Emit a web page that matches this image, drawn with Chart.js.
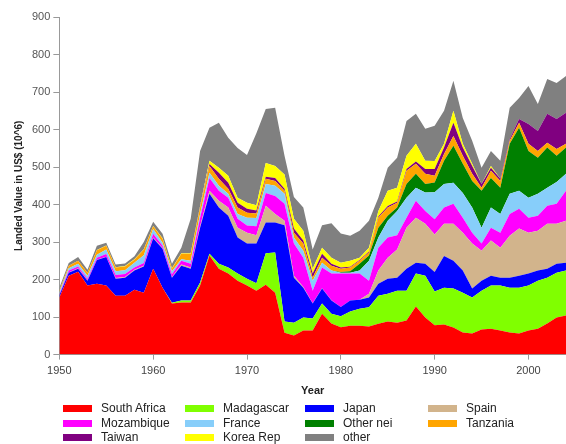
<!DOCTYPE html>
<html>
<head>
<meta charset="utf-8">
<script src="https://cdn.jsdelivr.net/npm/chart.js@4.4.1/dist/chart.umd.min.js"></script>
<style>
  body { margin: 0; background: #fff; font-family: "Liberation Sans", Arial, sans-serif; }
  #wrap { position: relative; width: 566px; height: 444px; overflow: hidden; }
  #chart { position: absolute; left: 0; top: 0; }
  .leg { position: absolute; font-size: 12px; color: #222; line-height: 14px; white-space: nowrap; }
  .leg span.box { position: absolute; left: 0; top: 4px; width: 29px; height: 7px; }
  .leg span.txt { position: absolute; left: 38px; top: 0; }
</style>
</head>
<body>
<div id="wrap">
  <canvas id="chart" width="566" height="406"></canvas>
  <div id="legend"></div>
</div>
<script>
// years 1950 - 2004
let years = [];
for (let y = 1950; y <= 2004; y++) years.push(y);
let yearTicks = [1950, 1960, 1970, 1980, 1990, 2000];

let southAfrica = [152,210,221,184,189,184,157,157,173,165,229,178,136,139,139,184,264,229,216,197,
                   184,170,186,165,58,51,64,64,109,83,73,77,77,75,82,88,85,91,128,99,
                   78,80,72,59,56,67,69,64,59,56,64,69,83,99,104];
let madagascar = [0,0,0,0,0,0,0,0,0,0,0,0,2,5,5,8,5,13,16,19,
                  18,20,84,107,30,34,35,32,27,26,29,38,45,51,75,74,85,79,88,111,
                  90,98,104,106,96,103,115,120,119,122,120,128,122,119,120];
let japan = [6,8,8,13,63,76,45,48,51,70,81,104,67,93,85,146,160,150,138,96,
             94,106,82,80,257,120,79,40,40,35,25,29,24,26,32,40,35,59,29,32,
             52,85,74,59,24,27,26,21,27,32,32,27,24,24,21];
let spain = [0,1,1,1,1,1,2,2,2,2,2,2,1,3,3,4,8,18,22,26,
             29,22,45,23,12,5,2,1,1,1,0,0,0,10,35,56,75,109,120,107,
             100,86,99,101,120,80,94,80,112,126,109,106,120,107,112];
let mozambique = [3,5,5,4,5,7,8,8,6,7,10,6,8,10,10,23,34,27,26,24,
                  19,24,34,48,45,86,78,33,55,71,89,72,70,35,61,54,38,27,45,34,
                  41,43,53,40,29,19,34,40,58,53,40,40,48,53,80];
let france = [5,6,7,8,8,12,10,10,13,21,13,8,8,4,8,10,14,13,11,13,
              21,22,24,27,27,16,19,27,13,8,2,2,8,53,27,45,65,53,35,49,
              72,63,56,66,67,42,54,50,54,48,53,59,48,58,45];
let otherNei = [0,0,0,0,0,0,0,0,0,0,0,0,0,0,0,0,0,0,0,0,
                0,0,0,0,0,0,0,0,0,0,2,4,18,14,26,13,9,37,37,23,
                26,62,99,78,71,99,79,70,133,168,125,96,107,70,70];
let tanzania = [5,7,8,8,12,10,10,10,8,15,7,11,7,15,19,17,18,19,13,17,
                13,12,14,13,8,13,19,8,13,13,9,10,8,8,27,22,13,35,27,27,
                18,18,26,21,19,8,19,18,8,13,19,18,13,18,10];
let taiwan = [0,0,0,0,0,0,0,0,0,0,0,0,0,0,0,2,5,16,16,13,
              11,8,5,8,5,11,8,11,11,5,3,2,2,3,3,4,3,5,6,13,
              18,17,35,22,21,10,8,6,5,10,53,53,77,80,83];
let koreaRep = [0,0,0,0,1,1,1,1,1,1,1,1,1,1,1,2,9,13,19,13,
                16,14,37,32,38,26,26,13,16,16,13,16,6,10,15,41,37,35,47,22,
                21,10,32,10,6,0,5,0,0,0,0,0,0,0,0];
let other = [7,7,10,8,11,7,7,7,8,19,11,12,12,15,92,147,88,120,101,133,
             127,192,144,155,50,58,62,51,60,92,78,67,72,72,35,61,80,93,80,85,
             94,88,80,69,61,43,40,48,83,56,101,72,93,96,98];

let seriesNames = ["South Africa","Madagascar","Japan","Spain","Mozambique","France",
                   "Other nei","Tanzania","Taiwan","Korea Rep","other"];
let seriesValues = [southAfrica, madagascar, japan, spain, mozambique, france,
                    otherNei, tanzania, taiwan, koreaRep, other];
let seriesColors = ["#ff0000","#80ff00","#0000ff","#d2b48c","#ff00ff","#87cefa",
                    "#008000","#ffa500","#800080","#ffff00","#808080"];

function make_datasets(){
    let sets = [];
    seriesNames.forEach((name, i)=>{
        sets.push({
            label: name,
            data: years.map((yr, j)=>({x: yr, y: seriesValues[i][j]})),
            backgroundColor: seriesColors[i],
            borderColor: seriesColors[i],
            borderWidth: 0,
            pointRadius: 0,
            fill: i === 0 ? "origin" : "-1",
            tension: 0
        });
    });
    return sets;
}

let chart = new Chart(document.querySelector("#chart"), {
    type: "line",
    data: { datasets: make_datasets() },
    options: {
        responsive: false,
        animation: false,
        layout: { padding: { top: 17, right: 0, left: 9, bottom: 4 } },
        plugins: { legend: { display: false }, tooltip: { enabled: false } },
        scales: {
            x: {
                type: "linear",
                min: 1950,
                max: 2004,
                afterBuildTicks: (scale)=>{
                    scale.ticks = yearTicks.map(v => ({ value: v }));
                },
                ticks: { color: "#444", font: { family: "Liberation Sans", size: 11 }, padding: 5,
                         callback: (v)=> String(v) },
                grid: { drawOnChartArea: false, color: "#999", tickLength: 5 },
                border: { color: "#999" },
                title: { display: true, text: "Year", color: "#222",
                         font: { family: "Liberation Sans", size: 11, weight: "bold" }, padding: { top: 2 } }
            },
            y: {
                stacked: true,
                min: 0,
                max: 900,
                ticks: { stepSize: 100, color: "#555", font: { family: "Liberation Sans", size: 11 }, padding: 3 },
                grid: { drawOnChartArea: false, color: "#999", tickLength: 6 },
                border: { color: "#999" },
                title: { display: true, text: "Landed Value in US$ (10^6)", color: "#222",
                         font: { family: "Liberation Sans", size: 10, weight: "bold" }, padding: { bottom: 4 } }
            }
        }
    }
});

// legend grid below the chart, 4 columns
function make_legend(){
    let box = document.querySelector("#legend");
    let colX = [63, 185, 305, 428];
    let rowY = [401, 416, 430];
    chart.data.datasets.forEach((ds, i)=>{
        let item = document.createElement("div");
        item.className = "leg";
        item.style.left = colX[i % 4] + "px";
        item.style.top = rowY[Math.floor(i / 4)] + "px";
        let sw = document.createElement("span");
        sw.className = "box";
        sw.style.background = ds.backgroundColor;
        let tx = document.createElement("span");
        tx.className = "txt";
        tx.textContent = ds.label;
        item.appendChild(sw);
        item.appendChild(tx);
        box.appendChild(item);
    });
}

make_legend()
</script>
</body>
</html>
